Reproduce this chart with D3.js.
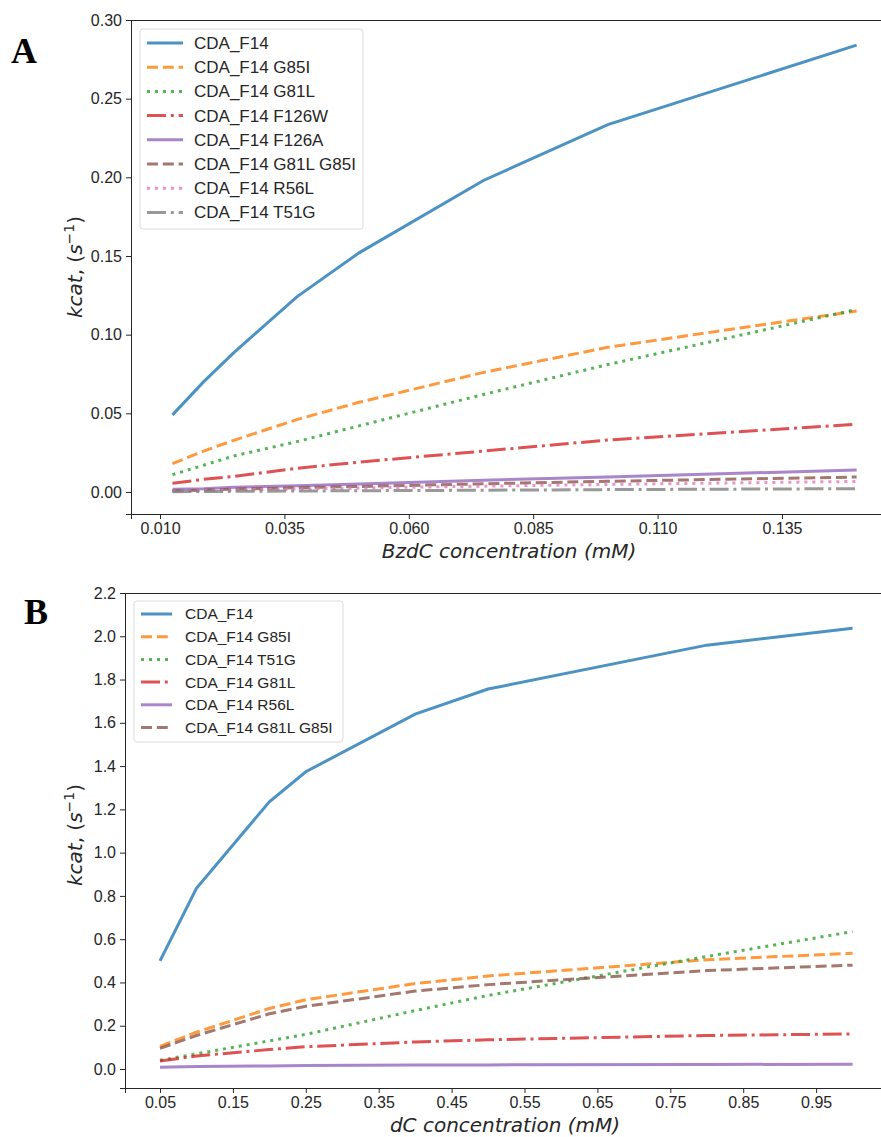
<!DOCTYPE html>
<html>
<head>
<meta charset="utf-8">
<script src="https://cdn.jsdelivr.net/npm/d3@7"></script>
<style>
  body { margin: 0; background: #fff; }
  svg { display: block; }
  .tick text { font-family: "Liberation Sans", Arial, sans-serif; font-size: 16px; fill: #262626; }
  .tick line { stroke: #262626; }
  .domain { stroke: #262626; }
  .axis-label { font-family: "DejaVu Sans", sans-serif; font-size: 20px; font-style: italic; fill: #262626; }
  .legend text { font-family: "Liberation Sans", Arial, sans-serif; fill: #262626; }
  .panel-tag { font-family: "Liberation Serif", "Times New Roman", serif; font-weight: bold; font-size: 36px; fill: #000; }
</style>
</head>
<body>
<svg id="chart" width="881" height="1137"></svg>
<script>
// DATA: panel A (BzdC substrate)
const concA = [0.0125, 0.01875, 0.025, 0.0375, 0.05, 0.075, 0.1, 0.15];
const namesA = ["CDA_F14", "CDA_F14 G85I", "CDA_F14 G81L", "CDA_F14 F126W",
                "CDA_F14 F126A", "CDA_F14 G81L G85I", "CDA_F14 R56L", "CDA_F14 T51G"];
const kcatA_F14      = [0.049, 0.070, 0.089, 0.124, 0.152, 0.198, 0.2335, 0.284];
const kcatA_G85I     = [0.018, 0.026, 0.033, 0.046, 0.057, 0.076, 0.092, 0.115];
const kcatA_G81L     = [0.011, 0.017, 0.023, 0.032, 0.042, 0.062, 0.081, 0.116];
const kcatA_F126W    = [0.0055, 0.008, 0.010, 0.015, 0.019, 0.026, 0.033, 0.043];
const kcatA_F126A    = [0.0017, 0.002, 0.003, 0.004, 0.005, 0.0075, 0.0095, 0.014];
const kcatA_G81LG85I = [0.0008, 0.0012, 0.0018, 0.0027, 0.0035, 0.0052, 0.0068, 0.0095];
const kcatA_R56L     = [0.0006, 0.0009, 0.0013, 0.0019, 0.0025, 0.0037, 0.0048, 0.0067];
const kcatA_T51G     = [0.0002, 0.0003, 0.0004, 0.0006, 0.0008, 0.0011, 0.0015, 0.0021];
const ticksAx = [0.010, 0.035, 0.060, 0.085, 0.110, 0.135];
const ticksAy = [0.00, 0.05, 0.10, 0.15, 0.20, 0.25, 0.30];

// DATA: panel B (dC substrate)
const concB = [0.05, 0.1, 0.2, 0.25, 0.4, 0.5, 0.8, 1.0];
const namesB = ["CDA_F14", "CDA_F14 G85I", "CDA_F14 T51G", "CDA_F14 G81L",
                "CDA_F14 R56L", "CDA_F14 G81L G85I"];
const kcatB_F14      = [0.50, 0.835, 1.235, 1.374, 1.640, 1.756, 1.959, 2.037];
const kcatB_G85I     = [0.105, 0.17, 0.28, 0.32, 0.395, 0.43, 0.505, 0.535];
const kcatB_T51G     = [0.04, 0.07, 0.13, 0.16, 0.27, 0.34, 0.52, 0.635];
const kcatB_G81L     = [0.037, 0.06, 0.09, 0.103, 0.125, 0.135, 0.155, 0.162];
const kcatB_R56L     = [0.008, 0.011, 0.014, 0.016, 0.018, 0.019, 0.021, 0.022];
const kcatB_G81LG85I = [0.095, 0.155, 0.255, 0.29, 0.36, 0.39, 0.455, 0.48];
const ticksBx = [0.05, 0.15, 0.25, 0.35, 0.45, 0.55, 0.65, 0.75, 0.85, 0.95];
const ticksBy = [0.0, 0.2, 0.4, 0.6, 0.8, 1.0, 1.2, 1.4, 1.6, 1.8, 2.0, 2.2];

// styles (tab10 colours, matplotlib dash patterns at lw 3)
const colors = ["#1f77b4", "#ff7f0e", "#2ca02c", "#d62728", "#9467bd", "#8c564b", "#e377c2", "#7f7f7f"];
const dashes = [null, "11,4.8", "3,5", "19,4.8,3,4.8"];

const svg = d3.select("#chart");

function drawPanel(cfg) {
    const g = svg.append("g");

    const x = d3.scaleLinear().domain(cfg.xDomain).range([cfg.left, cfg.right]);
    const y = d3.scaleLinear().domain(cfg.yDomain).range([cfg.bottom, cfg.top]);

    // lines
    const line = d3.line()
        .x(d => x(d[0]))
        .y(d => y(d[1]));

    const series = cfg.series.map((vals, i) => ({
        name: cfg.names[i],
        pts: cfg.conc.map((c, j) => [c, vals[j]]),
        color: colors[i],
        dash: dashes[i % 4]
    }));

    g.selectAll(".line")
        .data(series)
        .enter()
        .append("path")
        .attr("d", d => line(d.pts))
        .attr("fill", "none")
        .attr("stroke", d => d.color)
        .attr("stroke-opacity", 0.8)
        .attr("stroke-width", 3)
        .attr("stroke-dasharray", d => d.dash);

    // axes
    g.append("g")
        .attr("transform", `translate(0,${cfg.bottom})`)
        .call(d3.axisBottom(x).tickValues(cfg.xTicks).tickFormat(d3.format(cfg.xFmt))
            .tickSizeOuter(0).tickSize(5).tickPadding(4));

    g.append("g")
        .attr("transform", `translate(${cfg.left},0)`)
        .call(d3.axisLeft(y).tickValues(cfg.yTicks).tickFormat(d3.format(cfg.yFmt))
            .tickSizeOuter(0).tickSize(5).tickPadding(4));

    // top spine
    g.append("line")
        .attr("x1", cfg.left).attr("x2", 881)
        .attr("y1", cfg.top + 0.5).attr("y2", cfg.top + 0.5)
        .attr("stroke", "#262626");

    // axis labels
    g.append("text")
        .attr("class", "axis-label")
        .attr("text-anchor", "middle")
        .attr("x", cfg.xLabelX)
        .attr("y", cfg.bottom + 44)
        .text(cfg.xLabel);

    const yl = g.append("text")
        .attr("class", "axis-label")
        .attr("text-anchor", "middle")
        .attr("transform", `translate(${cfg.yLabelX},${cfg.yLabelY}) rotate(-90)`);
    yl.append("tspan").text("kcat");
    yl.append("tspan").attr("font-style", "normal").text(", (");
    yl.append("tspan").text("s");
    yl.append("tspan").attr("font-style", "normal").attr("font-size", 14).attr("dy", -8).text("\u22121");
    yl.append("tspan").attr("font-style", "normal").attr("dy", 8).text(")");

    // legend
    const lg = cfg.legend;
    const leg = g.append("g").attr("class", "legend");
    leg.append("rect")
        .attr("x", lg.x).attr("y", lg.y)
        .attr("width", lg.w).attr("height", lg.h)
        .attr("rx", 3)
        .attr("fill", "#fff").attr("fill-opacity", 0.8)
        .attr("stroke", "#dcdcdc");

    const items = leg.selectAll(".item")
        .data(series)
        .enter()
        .append("g")
        .attr("transform", (d, i) => `translate(${lg.x + 7},${lg.y + lg.first + i * lg.step})`);

    items.append("line")
        .attr("x1", 0).attr("x2", lg.handle)
        .attr("stroke", d => d.color)
        .attr("stroke-opacity", 0.8)
        .attr("stroke-width", 3)
        .attr("stroke-dasharray", d => d.dash);

    items.append("text")
        .attr("x", lg.textX)
        .attr("dy", "0.35em")
        .attr("font-size", lg.font)
        .text(d => d.name);

    // panel letter
    svg.append("text")
        .attr("class", "panel-tag")
        .attr("x", cfg.tagX).attr("y", cfg.tagY)
        .text(cfg.tag);
}

drawPanel({
    tag: "A", tagX: 11, tagY: 63,
    left: 131, right: 881, top: 20, bottom: 514,
    xDomain: [0.00417, 0.1549], yDomain: [-0.014, 0.30],
    conc: concA, names: namesA,
    series: [kcatA_F14, kcatA_G85I, kcatA_G81L, kcatA_F126W, kcatA_F126A, kcatA_G81LG85I, kcatA_R56L, kcatA_T51G],
    xTicks: ticksAx, yTicks: ticksAy, xFmt: ".3f", yFmt: ".2f",
    xLabel: "BzdC concentration (mM)", xLabelX: 509,
    yLabelX: 82, yLabelY: 267,
    legend: { x: 140, y: 29, w: 223, h: 200, first: 14, step: 24.2, handle: 36, textX: 47, font: 17 }
});

drawPanel({
    tag: "B", tagX: 24, tagY: 624,
    left: 125, right: 881, top: 593, bottom: 1088,
    xDomain: [0.002, 1.039], yDomain: [-0.0878, 2.2],
    conc: concB, names: namesB,
    series: [kcatB_F14, kcatB_G85I, kcatB_T51G, kcatB_G81L, kcatB_R56L, kcatB_G81LG85I],
    xTicks: ticksBx, yTicks: ticksBy, xFmt: ".2f", yFmt: ".1f",
    xLabel: "dC concentration (mM)", xLabelX: 505,
    yLabelX: 82, yLabelY: 835,
    legend: { x: 134, y: 601, w: 209, h: 141, first: 13, step: 22.7, handle: 31, textX: 44, font: 15.5 }
});
</script>
</body>
</html>
